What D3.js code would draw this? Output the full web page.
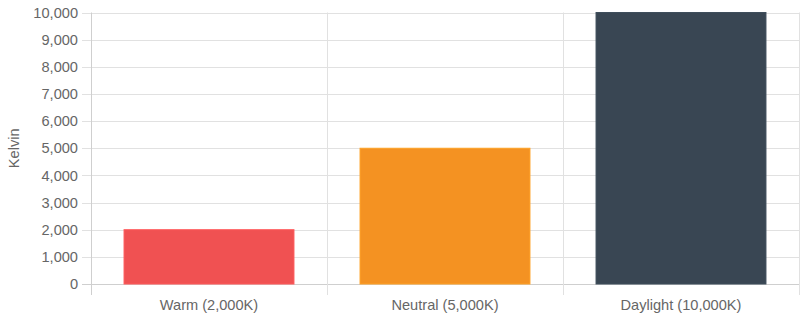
<!DOCTYPE html>
<html>
<head>
<meta charset="utf-8">
<script src="https://cdn.jsdelivr.net/npm/d3@7"></script>
<style>
  body { margin: 0; background: #fff; }
  svg { display: block; font-family: "Liberation Sans", Arial, sans-serif; }
</style>
</head>
<body>
<div id="chart"></div>
<script>
const categories = ['Warm (2,000K)', 'Neutral (5,000K)', 'Daylight (10,000K)'];
const kelvinValues = [2000, 5000, 10000];
const barColors = ['#f05152', '#f49222', '#394653'];
const yTicks = [0, 1000, 2000, 3000, 4000, 5000, 6000, 7000, 8000, 9000, 10000];

const width = 801, height = 320;
const margin = { top: 12.5, right: 2, bottom: 36, left: 91 };
const fontSize = 14.6;

const svg = d3.select('#chart').append('svg')
  .attr('width', width)
  .attr('height', height);

const x = d3.scaleBand()
  .domain(categories)
  .range([margin.left, width - margin.right]);

const y = d3.scaleLinear()
  .domain([0, 10000])
  .range([height - margin.bottom, margin.top]);

const gridColor = '#e1e1e1';
const fmt = d3.format(',');

// horizontal grid + y tick labels
const yg = svg.append('g');
yg.selectAll('line')
  .data(yTicks)
  .enter().append('line')
  .attr('x1', margin.left - 9)
  .attr('x2', width - margin.right)
  .attr('y1', d => Math.round(y(d)) + 0.5)
  .attr('y2', d => Math.round(y(d)) + 0.5)
  .attr('stroke', d => d === 0 ? '#cfcfcf' : gridColor);

yg.selectAll('text')
  .data(yTicks)
  .enter().append('text')
  .attr('x', margin.left - 13)
  .attr('y', d => y(d))
  .attr('dy', '0.35em')
  .attr('text-anchor', 'end')
  .attr('fill', '#666')
  .attr('font-size', fontSize)
  .text(d => fmt(d));

// vertical grid at category boundaries
const bounds = categories.map(c => x(c)).concat([x.range()[1]]);
svg.append('g').selectAll('line')
  .data(bounds)
  .enter().append('line')
  .attr('x1', d => Math.round(d) + 0.5)
  .attr('x2', d => Math.round(d) + 0.5)
  .attr('y1', margin.top)
  .attr('y2', height - margin.bottom + 11)
  .attr('stroke', (d, i) => i === 0 ? '#cfcfcf' : gridColor);

// bars
const barW = x.bandwidth() * 0.72;
svg.append('g').selectAll('rect')
  .data(kelvinValues)
  .enter().append('rect')
  .attr('x', (d, i) => x(categories[i]) + (x.bandwidth() - barW) / 2)
  .attr('width', barW)
  .attr('y', d => y(d))
  .attr('height', d => y(0) - y(d))
  .attr('fill', (d, i) => barColors[i])
  .attr('stroke', (d, i) => d3.color(barColors[i]).brighter(0.3))
  .attr('stroke-width', 1);

// x labels
svg.append('g').selectAll('text')
  .data(categories)
  .enter().append('text')
  .attr('x', d => x(d) + x.bandwidth() / 2)
  .attr('y', height - margin.bottom + 21)
  .attr('dy', '0.35em')
  .attr('text-anchor', 'middle')
  .attr('fill', '#666')
  .attr('font-size', fontSize)
  .text(d => d);

// y axis title
svg.append('text')
  .attr('transform', `translate(14,${(margin.top + height - margin.bottom) / 2}) rotate(-90)`)
  .attr('dy', '0.35em')
  .attr('text-anchor', 'middle')
  .attr('fill', '#666')
  .attr('font-size', fontSize)
  .text('Kelvin');
</script>
</body>
</html>
